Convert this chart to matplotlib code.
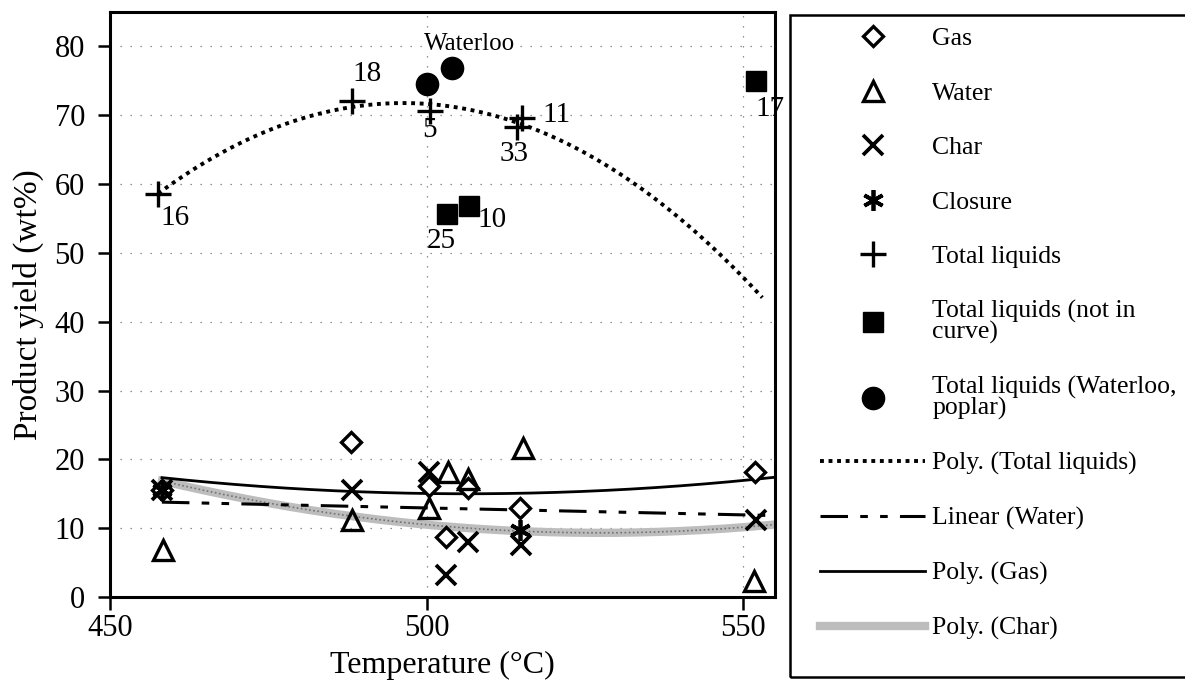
import numpy as np
import matplotlib
matplotlib.use("Agg")
import matplotlib.pyplot as plt
from matplotlib.patches import Rectangle

plt.rcParams['font.family'] = ['Liberation Serif', 'DejaVu Serif']

# data (temperature degC, yield wt%)
gas_t = [458.2, 488.1, 500.3, 503.0, 506.5, 514.8, 551.9]
gas_y = [15.5, 22.5, 16.2, 8.7, 15.9, 13.0, 18.1]
water_t = [458.4, 488.2, 500.4, 503.4, 506.5, 515.2, 551.7]
water_y = [6.8, 11.2, 12.9, 18.1, 17.2, 21.6, 2.3]
char_t = [458.2, 488.2, 500.4, 503.0, 506.6, 514.9, 552.0]
char_y = [15.5, 15.5, 18.2, 3.2, 8.0, 7.6, 11.2]
closure_t = [458.2, 514.8]
closure_y = [15.6, 9.8]
liq_t = [457.6, 488.2, 500.5, 514.3, 515.1]
liq_y = [58.5, 72.0, 70.6, 68.3, 69.6]
liq_lbl = ['16', '18', '5', '33', '11']
nic_t = [503.2, 506.7, 552.0]
nic_y = [55.6, 56.8, 75.0]
nic_lbl = ['25', '10', '17']
wat_t = [500.1, 504.0]
wat_y = [74.6, 76.8]

# trendline spans (Excel style, with forecast)
liq_span = [457.6, 553.0]
fit_span = [458.2, 555.0]

liq_off = {'16': (17, -24), '18': (15, 27), '5': (0, -19), '33': (-3, -27), '11': (34, 3)}
nic_off = {'25': (-6, -27), '10': (23, -14), '17': (14, -28)}

fig = plt.figure(figsize=(11.85, 6.91), dpi=100)
ax = fig.add_axes([110/1185, 1-597/691, 665/1185, 585/691])

ax.grid(True, color='0.45', lw=0.9, linestyle=(0, (1, 7)), zorder=0)

def trend(t, y, deg, span):
    c = np.polyfit(t, y, deg)
    xs = np.linspace(span[0], span[1], 200)
    return xs, np.polyval(c, xs)

xs, ys = trend(liq_t, liq_y, 2, liq_span)
h_pl, = ax.plot(xs, ys, color='k', lw=2.8, linestyle=(0, (1, 1.2)), zorder=3,
                label='Poly. (Total liquids)')
xs, ys = trend(water_t, water_y, 1, fit_span)
h_lw, = ax.plot(xs, ys, color='k', lw=2.2, linestyle=(0, (9, 4, 2.5, 4, 2.5, 4)), zorder=3,
                label='Linear (Water)')
xs, ys = trend(gas_t, gas_y, 2, fit_span)
h_pg, = ax.plot(xs, ys, color='k', lw=2.0, zorder=3, label='Poly. (Gas)')
xs, ys = trend(char_t, char_y, 2, fit_span)
h_pc, = ax.plot(xs, ys, color='0.74', lw=6, zorder=2, label='Poly. (Char)')
ax.plot(xs, ys, color='0.45', lw=1.2, linestyle=(0, (1, 1.5)), zorder=2)

h_gas, = ax.plot(gas_t, gas_y, 'D', ms=10, mfc='white', mec='k', mew=2.4, ls='none', zorder=4, label='Gas')
h_wat, = ax.plot(water_t, water_y, '^', ms=15, mfc='none', mec='k', mew=2.4, ls='none', zorder=4, label='Water')
h_chr, = ax.plot(char_t, char_y, 'x', ms=15, mec='k', mew=2.7, ls='none', zorder=4, label='Char')
h_clo, = ax.plot(closure_t, closure_y, marker=(6, 2, 0), ms=15, mec='k', mew=2.7, ls='none', zorder=4, label='Closure')
h_liq, = ax.plot(liq_t, liq_y, '+', ms=19, mec='k', mew=2.4, ls='none', zorder=4, label='Total liquids')
h_nic, = ax.plot(nic_t, nic_y, 's', ms=15, color='k', ls='none', zorder=4,
                 label='Total liquids (not in\ncurve)')
h_wl, = ax.plot(wat_t, wat_y, 'o', ms=16, color='k', ls='none', zorder=4,
                label='Total liquids (Waterloo,\npoplar)')

for t, y, s in zip(liq_t, liq_y, liq_lbl):
    ax.annotate(s, (t, y), xytext=liq_off[s], textcoords='offset pixels',
                ha='center', va='center', fontsize=21, zorder=5)
for t, y, s in zip(nic_t, nic_y, nic_lbl):
    ax.annotate(s, (t, y), xytext=nic_off[s], textcoords='offset pixels',
                ha='center', va='center', fontsize=21, zorder=5, annotation_clip=False)
ax.text(506.8, 80.3, 'Waterloo', ha='center', va='center', fontsize=18, zorder=5,
        bbox=dict(fc='white', ec='none', pad=0.5))

ax.set_xlim(450, 555)
ax.set_ylim(0, 85)
ax.set_xticks([450, 500, 550])
ax.set_yticks(np.arange(0, 81, 10))
ax.tick_params(labelsize=22, width=1.8, length=9, direction='out')
ax.tick_params(axis='x', pad=3)
ax.tick_params(axis='y', pad=9)
for sp in ax.spines.values():
    sp.set_linewidth(2.2)
ax.set_xlabel('Temperature (°C)', fontsize=23, labelpad=6)
ax.set_ylabel('Product yield (wt%)', fontsize=24, labelpad=8)

handles = [h_gas, h_wat, h_chr, h_clo, h_liq, h_nic, h_wl, h_pl, h_lw, h_pg, h_pc]
leg = fig.legend(handles=handles, loc='upper left', bbox_to_anchor=(820/1185, 1-27/691),
                 fontsize=18.5, frameon=False, handlelength=4.1, handletextpad=0.27,
                 labelspacing=1.23, borderpad=0, borderaxespad=0, numpoints=1)
for t in leg.get_texts():
    t.set_linespacing(0.9)

fig.patches.append(Rectangle((790/1185, 1-677/691), 420/1185, 662/691, transform=fig.transFigure,
                             fill=False, ec='k', lw=1.8, clip_on=False))

fig.savefig('out.png', dpi=100)
